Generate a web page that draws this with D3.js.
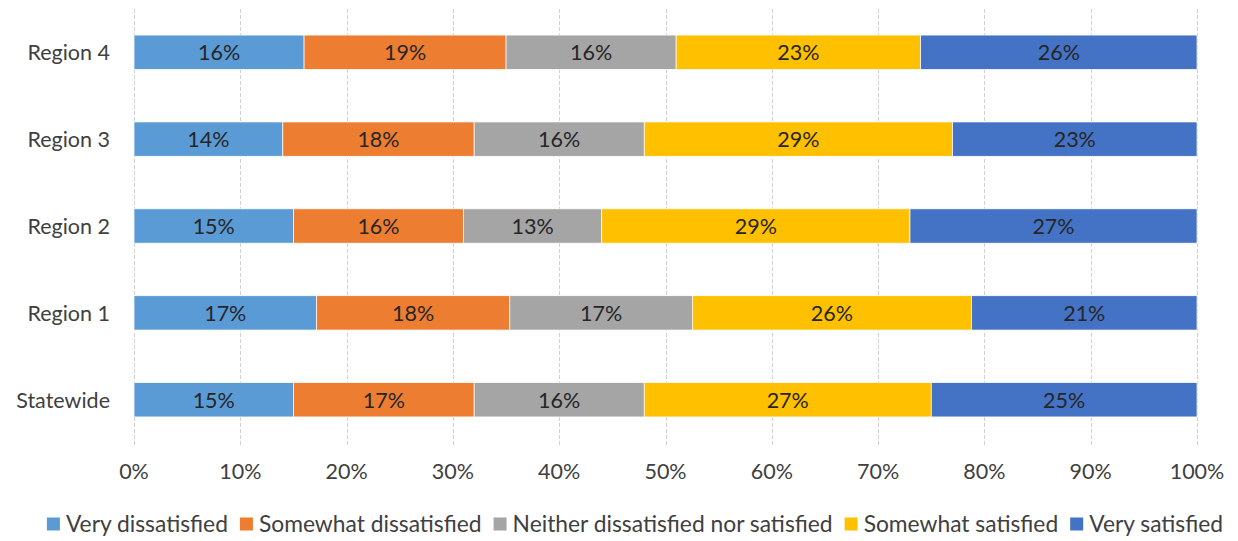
<!DOCTYPE html>
<html>
<head>
<meta charset="utf-8">
<script src="https://cdn.jsdelivr.net/npm/d3@7"></script>
<style>
  html, body { margin: 0; padding: 0; background: #fff; }
  svg { display: block; font-family: Lato, "Open Sans", sans-serif; }
</style>
</head>
<body>
<svg id="chart" width="1238" height="541"></svg>
<script>
// Survey satisfaction by region (raw shares, rows shown as 100% stacked)
const categories = ["Region 4", "Region 3", "Region 2", "Region 1", "Statewide"];
const seriesNames = [
  "Very dissatisfied",
  "Somewhat dissatisfied",
  "Neither dissatisfied nor satisfied",
  "Somewhat satisfied",
  "Very satisfied"
];
const veryDissatisfied     = [16, 14, 15, 17, 15];
const somewhatDissatisfied = [19, 18, 16, 18, 17];
const neither              = [16, 16, 13, 17, 16];
const somewhatSatisfied    = [23, 29, 29, 26, 27];
const verySatisfied        = [26, 23, 27, 21, 25];
const tickValues = [0, 0.1, 0.2, 0.3, 0.4, 0.5, 0.6, 0.7, 0.8, 0.9, 1.0];

const colors = ["#5B9BD5", "#ED7D31", "#A5A5A5", "#FFC000", "#4472C4"];
const seriesValues = [veryDissatisfied, somewhatDissatisfied, neither, somewhatSatisfied, verySatisfied];

const svg = d3.select("#chart");
const margin = { left: 134, right: 41, top: 9, bottom: 98 };
const W = 1238, H = 541;
const fontSize = 21.5;
const legendFontSize = 22.8;

const x = d3.scaleLinear().domain([0, 1]).range([margin.left, W - margin.right]);
const y = d3.scaleBand().domain(categories).range([margin.top, H - margin.bottom]).paddingInner(0.605).paddingOuter(0.3);

// table rows: one per category, each series normalised by the row total
const rows = categories.map((c, i) => {
  const row = { category: c };
  const total = d3.sum(seriesValues, s => s[i]);
  seriesNames.forEach((n, k) => { row[n] = seriesValues[k][i] / total; row["raw_" + n] = seriesValues[k][i]; });
  return row;
});
const stack = d3.stack().keys(seriesNames)(rows);

// vertical dashed gridlines
svg.append("g").selectAll("line").data(tickValues).join("line")
  .attr("x1", d => Math.round(x(d)) + 0.5).attr("x2", d => Math.round(x(d)) + 0.5)
  .attr("y1", margin.top).attr("y2", H - margin.bottom + 2)
  .attr("stroke", "#D0D0D0").attr("stroke-width", 1)
  .attr("stroke-dasharray", "4,2");

// stacked bars
const layers = svg.append("g").selectAll("g").data(stack).join("g")
  .attr("fill", (d, i) => colors[i]);
layers.selectAll("rect").data(d => d.map(p => ({ p, key: d.key }))).join("rect")
  .attr("x", d => x(d.p[0]))
  .attr("width", d => x(d.p[1]) - x(d.p[0]))
  .attr("y", d => y(d.p.data.category))
  .attr("height", y.bandwidth())
  .attr("stroke", "#fff").attr("stroke-width", 0.7);

// value labels
layers.selectAll("text").data(d => d.map(p => ({ p, key: d.key }))).join("text")
  .attr("x", d => (x(d.p[0]) + x(d.p[1])) / 2)
  .attr("y", d => y(d.p.data.category) + y.bandwidth() / 2)
  .attr("dy", "0.36em")
  .attr("text-anchor", "middle")
  .attr("fill", "#262626")
  .attr("font-size", fontSize)
  .text(d => d.p.data["raw_" + d.key] + "%");

// category labels
svg.append("g").selectAll("text").data(categories).join("text")
  .attr("x", 110)
  .attr("y", d => y(d) + y.bandwidth() / 2)
  .attr("dy", "0.36em")
  .attr("text-anchor", "end")
  .attr("fill", "#404040")
  .attr("font-size", fontSize)
  .text(d => d);

// x axis tick labels
svg.append("g").selectAll("text").data(tickValues).join("text")
  .attr("x", d => x(d))
  .attr("y", 471)
  .attr("dy", "0.36em")
  .attr("text-anchor", "middle")
  .attr("fill", "#404040")
  .attr("font-size", fontSize)
  .text(d => d3.format(".0%")(d));

// legend, centred along the bottom
const legend = svg.append("g");
const items = legend.selectAll("g").data(seriesNames).join("g");
items.append("rect").attr("width", 13).attr("height", 13).attr("y", -6.5)
  .attr("fill", (d, i) => colors[i]);
items.append("text").attr("x", 19).attr("dy", "0.36em")
  .attr("fill", "#404040").attr("font-size", legendFontSize).text(d => d);
let cx = 0;
const offsets = [];
items.each(function () {
  offsets.push(cx);
  const w = this.querySelector("text").getComputedTextLength();
  cx += 19 + w + 12;
});
const totalW = cx - 12;
const startX = 635 - totalW / 2;
items.attr("transform", (d, i) => `translate(${startX + offsets[i]},524)`);
</script>
</body>
</html>
